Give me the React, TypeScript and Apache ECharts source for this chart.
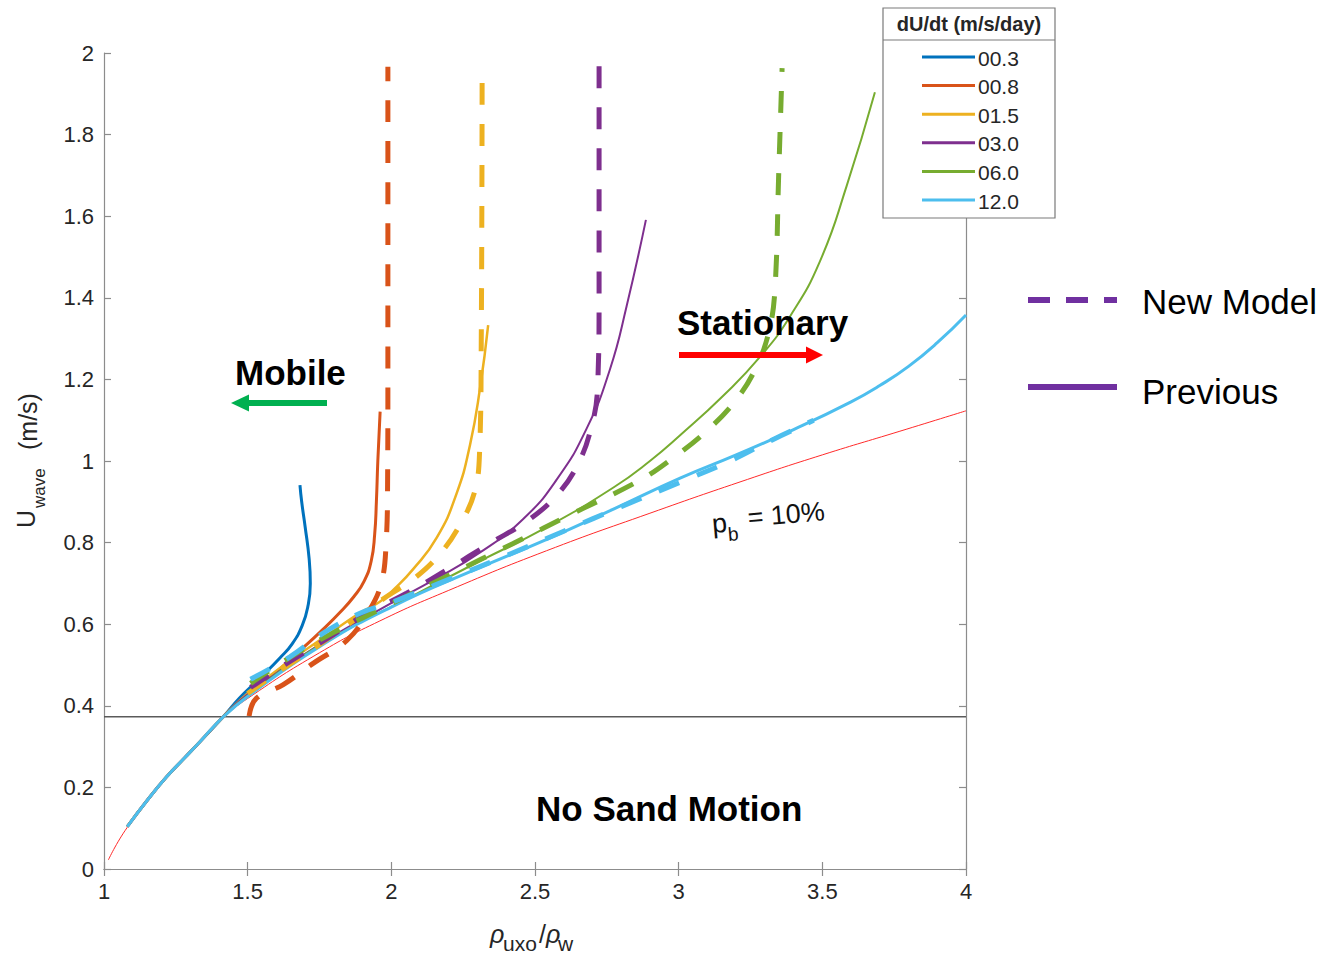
import React, { useEffect, useRef } from "react";
import * as echarts from "echarts";

type P = [number, number];

// Axis setup
const X_MIN = 1;
const X_MAX = 4;
const X_STEP = 0.5;
const Y_MIN = 0;
const Y_MAX = 2;
const Y_STEP = 0.2;

// Legend categories (dU/dt, m/s/day)
const rateLabels = ["00.3", "00.8", "01.5", "03.0", "06.0", "12.0"];
const rateColors = ["#0072BD", "#D95319", "#EDB120", "#7E2F8E", "#77AC30", "#4DBEEE"];
const prevWidths = [3, 3, 2.5, 2, 2, 3];

// Shared lower branch of the "Previous" curves
const baseCurve: P[] = [
  [1.081, 0.104], [1.15, 0.168], [1.218, 0.226], [1.28, 0.272], [1.334, 0.312], [1.415, 0.373],
];

// "Previous" (solid) curves, continuing from baseCurve
const prev03: P[] = [
  [1.47, 0.418], [1.543, 0.468], [1.613, 0.518], [1.655, 0.552], [1.69, 0.597], [1.71, 0.645],
  [1.718, 0.7], [1.714, 0.76], [1.7, 0.839], [1.688, 0.9], [1.682, 0.941],
];
const prev08: P[] = [
  [1.5, 0.428], [1.566, 0.462], [1.682, 0.535], [1.763, 0.588], [1.82, 0.628], [1.87, 0.668],
  [1.905, 0.705], [1.93, 0.755], [1.942, 0.82], [1.948, 0.9], [1.953, 1.0], [1.961, 1.121],
];
const prev15: P[] = [
  [1.5, 0.43], [1.636, 0.505], [1.775, 0.572], [1.891, 0.628], [1.96, 0.655], [2.007, 0.684],
  [2.076, 0.735], [2.158, 0.812], [2.227, 0.92], [2.274, 1.04], [2.309, 1.18], [2.337, 1.333],
];
const prev30: P[] = [
  [1.5, 0.428], [1.75, 0.55], [1.995, 0.65], [2.146, 0.708], [2.309, 0.776], [2.459, 0.858],
  [2.576, 0.955], [2.68, 1.08], [2.761, 1.225], [2.819, 1.38], [2.886, 1.591],
];
const prev60: P[] = [
  [1.5, 0.425], [1.75, 0.548], [2.076, 0.67], [2.309, 0.755], [2.541, 0.838], [2.773, 0.935],
  [2.9, 1.0], [3.005, 1.063], [3.155, 1.16], [3.283, 1.255], [3.388, 1.355], [3.492, 1.49],
  [3.585, 1.675], [3.683, 1.904],
];
const prev120: P[] = [
  [1.5, 0.423], [1.75, 0.545], [2.0, 0.642], [2.309, 0.739], [2.541, 0.808], [2.773, 0.882],
  [3.005, 0.958], [3.2, 1.015], [3.4, 1.077], [3.6, 1.145], [3.7, 1.185], [3.8, 1.232],
  [3.9, 1.29], [4.0, 1.358],
];

// "New Model" (dashed) curves
const new08: P[] = [
  [1.505, 0.375], [1.53, 0.418], [1.624, 0.452], [1.728, 0.504], [1.845, 0.56], [1.92, 0.63],
  [1.965, 0.7], [1.982, 0.8], [1.987, 0.95], [1.988, 1.2], [1.988, 1.966],
];
const new15: P[] = [
  [1.5, 0.43], [1.6, 0.48], [1.75, 0.55], [1.87, 0.61], [1.984, 0.668], [2.076, 0.71],
  [2.169, 0.772], [2.24, 0.845], [2.29, 0.925], [2.307, 1.02], [2.313, 1.3], [2.316, 1.966],
];
const new30: P[] = [
  [1.51, 0.445], [1.65, 0.51], [1.8, 0.575], [1.9, 0.62], [2.053, 0.676], [2.193, 0.733],
  [2.343, 0.798], [2.483, 0.858], [2.587, 0.925], [2.655, 1.0], [2.695, 1.08], [2.717, 1.17],
  [2.723, 1.4], [2.723, 2.0],
];
const new60: P[] = [
  [1.51, 0.455], [1.65, 0.52], [1.8, 0.58], [2.0, 0.65], [2.2, 0.72], [2.424, 0.798],
  [2.633, 0.872], [2.865, 0.953], [2.981, 1.008], [3.098, 1.074], [3.2, 1.15], [3.27, 1.23],
  [3.315, 1.32], [3.335, 1.42], [3.348, 1.7], [3.36, 1.963],
];
const new120: P[] = [
  [1.51, 0.465], [1.647, 0.52], [1.763, 0.578], [1.891, 0.627], [2.007, 0.655], [2.2, 0.71],
  [2.4, 0.768], [2.6, 0.828], [2.8, 0.888], [3.04, 0.958], [3.179, 1.0], [3.306, 1.045],
  [3.47, 1.1],
];

// p_b = 10% reference curve
const pb10: P[] = [
  [1.015, 0.022], [1.081, 0.102], [1.218, 0.224], [1.334, 0.31], [1.415, 0.37], [1.5, 0.418],
  [1.75, 0.53], [1.96, 0.608], [2.2, 0.683], [2.54, 0.78], [2.9, 0.872], [3.24, 0.955],
  [3.5, 1.015], [3.77, 1.073], [4.0, 1.123],
];

// Sand-motion threshold
const thresholdY = 0.3733;

const prevCurves = [prev03, prev08, prev15, prev30, prev60, prev120];
const newCurves = [null, new08, new15, new30, new60, new120];

const FONT = "'Liberation Sans', Arial, Helvetica, sans-serif";
const AX = "#8c8c8c";
const TXT = "#262626";

export default function App() {
  const ref = useRef<HTMLDivElement>(null);

  useEffect(() => {
    if (!ref.current) return;
    const chart = echarts.init(ref.current, undefined, { renderer: "svg" });

    const series: any[] = [];
    series.push({
      name: "p_b = 10%",
      type: "line",
      data: pb10,
      showSymbol: false,
      symbol: "none",
      smooth: 0.5,
      silent: true,
      lineStyle: { color: "#ff2a2a", width: 1 },
      z: 2,
    });
    series.push({
      name: "threshold",
      type: "line",
      data: [[X_MIN, thresholdY], [X_MAX, thresholdY]],
      showSymbol: false,
      symbol: "none",
      silent: true,
      lineStyle: { color: "#5a5a5a", width: 1.6 },
      z: 2,
    });
    prevCurves.forEach((c, i) => {
      series.push({
        name: "Previous " + rateLabels[i],
        type: "line",
        data: [...baseCurve, ...c],
        showSymbol: false,
        symbol: "none",
        smooth: 0.5,
        silent: true,
        lineStyle: { color: rateColors[i], width: prevWidths[i] },
        z: 3,
      });
    });
    newCurves.forEach((c, i) => {
      if (!c) return;
      series.push({
        name: "New " + rateLabels[i],
        type: "line",
        data: c,
        showSymbol: false,
        symbol: "none",
        smooth: 0.4,
        silent: true,
        lineStyle: { color: rateColors[i], width: 5, type: [22, 19], cap: "butt" },
        z: 4,
      });
    });

    const axisCommon = {
      type: "value",
      axisLine: { show: true, lineStyle: { color: AX, width: 1.2 } },
      axisTick: { show: true, inside: true, length: 7, lineStyle: { color: AX, width: 1.2 } },
      splitLine: { show: false },
    };

    const legendItems: any[] = [];
    rateLabels.forEach((lab, i) => {
      const y = 57 + 28.6 * i;
      legendItems.push({
        type: "line",
        shape: { x1: 922, y1: y, x2: 975, y2: y },
        style: { stroke: rateColors[i], lineWidth: 3 },
        z: 101,
      });
      legendItems.push({
        type: "text",
        x: 978,
        y: y + 1,
        style: { text: lab, fill: TXT, fontSize: 21, fontFamily: FONT, align: "left", verticalAlign: "middle" },
        z: 101,
      });
    });

    const option: any = {
      animation: false,
      backgroundColor: "#ffffff",
      grid: {
        left: 104, right: 367, top: 53, bottom: 87,
        show: false, containLabel: false, outerBoundsMode: "none",
      },
      xAxis: [
        {
          ...axisCommon, position: "bottom", min: X_MIN, max: X_MAX, interval: X_STEP,
          axisLabel: { show: true, fontSize: 22, color: TXT, fontFamily: FONT, margin: 11, showMinLabel: true, showMaxLabel: true },
        },
        {
          ...axisCommon, position: "top", min: X_MIN, max: X_MAX, interval: X_STEP,
          axisLabel: { show: false },
        },
      ],
      yAxis: [
        {
          ...axisCommon, position: "left", min: Y_MIN, max: Y_MAX, interval: Y_STEP,
          axisLabel: { show: true, fontSize: 22, color: TXT, fontFamily: FONT, margin: 10, showMinLabel: true, showMaxLabel: true },
        },
        {
          ...axisCommon, position: "right", min: Y_MIN, max: Y_MAX, interval: Y_STEP,
          axisLabel: { show: false },
        },
      ],
      series,
      graphic: [
        // Legend box
        {
          type: "rect",
          shape: { x: 883, y: 8, width: 172, height: 210 },
          style: { fill: "#ffffff", stroke: "#7a7a7a", lineWidth: 1.2 },
          z: 100,
        },
        {
          type: "line",
          shape: { x1: 883, y1: 40, x2: 1055, y2: 40 },
          style: { stroke: "#7a7a7a", lineWidth: 1.2 },
          z: 101,
        },
        {
          type: "text",
          x: 969,
          y: 24,
          style: { text: "dU/dt (m/s/day)", fill: TXT, fontSize: 20, fontWeight: "bold", fontFamily: FONT, align: "center", verticalAlign: "middle" },
          z: 101,
        },
        ...legendItems,
        // Right legend: line style meaning
        {
          type: "line",
          shape: { x1: 1028, y1: 300, x2: 1117, y2: 300 },
          style: { stroke: "#7030A0", lineWidth: 6, lineDash: [22, 16] },
          z: 100,
        },
        {
          type: "line",
          shape: { x1: 1028, y1: 387, x2: 1117, y2: 387 },
          style: { stroke: "#7030A0", lineWidth: 6 },
          z: 100,
        },
        {
          type: "text", x: 1142, y: 301,
          style: { text: "New Model", fill: "#000", fontSize: 35, fontFamily: FONT, align: "left", verticalAlign: "middle" },
          z: 100,
        },
        {
          type: "text", x: 1142, y: 391,
          style: { text: "Previous", fill: "#000", fontSize: 35, fontFamily: FONT, align: "left", verticalAlign: "middle" },
          z: 100,
        },
        // Annotations
        {
          type: "text", x: 235, y: 372,
          style: { text: "Mobile", fill: "#000", fontSize: 35, fontWeight: "bold", fontFamily: FONT, align: "left", verticalAlign: "middle" },
          z: 100,
        },
        {
          type: "rect", shape: { x: 246, y: 400, width: 81, height: 6 },
          style: { fill: "#00b050" }, z: 100,
        },
        {
          type: "polygon", shape: { points: [[231, 403], [249, 394.5], [249, 411.5]] },
          style: { fill: "#00b050" }, z: 100,
        },
        {
          type: "text", x: 677, y: 322,
          style: { text: "Stationary", fill: "#000", fontSize: 35, fontWeight: "bold", fontFamily: FONT, align: "left", verticalAlign: "middle" },
          z: 100,
        },
        {
          type: "rect", shape: { x: 679, y: 352, width: 129, height: 6 },
          style: { fill: "#ff0000" }, z: 100,
        },
        {
          type: "polygon", shape: { points: [[823, 355], [806, 346.5], [806, 363.5]] },
          style: { fill: "#ff0000" }, z: 100,
        },
        {
          type: "text", x: 536, y: 808,
          style: { text: "No Sand Motion", fill: "#000", fontSize: 35, fontWeight: "bold", fontFamily: FONT, align: "left", verticalAlign: "middle" },
          z: 100,
        },
        // p_b = 10% label
        {
          type: "group", x: 712, y: 524, rotation: (5 * Math.PI) / 180,
          children: [
            { type: "text", x: 0, y: 0, style: { text: "p", fill: "#111", fontSize: 27, fontFamily: FONT, align: "left", verticalAlign: "middle" } },
            { type: "text", x: 15, y: 12, style: { text: "b", fill: "#111", fontSize: 19, fontFamily: FONT, align: "left", verticalAlign: "middle" } },
            { type: "text", x: 36, y: -3, style: { text: "= 10%", fill: "#111", fontSize: 27, fontFamily: FONT, align: "left", verticalAlign: "middle" } },
          ],
          z: 100,
        },
        // Y axis name (rotated)
        {
          type: "group", x: 26, y: 528, rotation: Math.PI / 2,
          children: [
            { type: "text", x: 0, y: 0, style: { text: "U", fill: TXT, fontSize: 25, fontFamily: FONT, align: "left", verticalAlign: "middle" } },
            { type: "text", x: 20, y: 13, style: { text: "wave", fill: TXT, fontSize: 17, fontFamily: FONT, align: "left", verticalAlign: "middle" } },
            { type: "text", x: 78, y: 2, style: { text: "(m/s)", fill: TXT, fontSize: 25, fontFamily: FONT, align: "left", verticalAlign: "middle" } },
          ],
          z: 100,
        },
        // X axis name
        {
          type: "group", x: 490, y: 934,
          children: [
            { type: "text", x: 0, y: 0, style: { text: "ρ", fill: TXT, fontSize: 25, fontStyle: "italic", fontFamily: FONT, align: "left", verticalAlign: "middle" } },
            { type: "text", x: 13, y: 9, style: { text: "uxo", fill: TXT, fontSize: 21, fontFamily: FONT, align: "left", verticalAlign: "middle" } },
            { type: "text", x: 49, y: 0, style: { text: "/", fill: TXT, fontSize: 25, fontFamily: FONT, align: "left", verticalAlign: "middle" } },
            { type: "text", x: 56, y: 0, style: { text: "ρ", fill: TXT, fontSize: 25, fontStyle: "italic", fontFamily: FONT, align: "left", verticalAlign: "middle" } },
            { type: "text", x: 68, y: 9, style: { text: "w", fill: TXT, fontSize: 21, fontFamily: FONT, align: "left", verticalAlign: "middle" } },
          ],
          z: 100,
        },
      ],
    };

    chart.setOption(option);
    return () => {
      chart.dispose();
    };
  }, []);

  return (
    <div
      ref={ref}
      style={{ position: "absolute", left: 0, top: 0, width: 1333, height: 956, background: "#fff" }}
    />
  );
}
